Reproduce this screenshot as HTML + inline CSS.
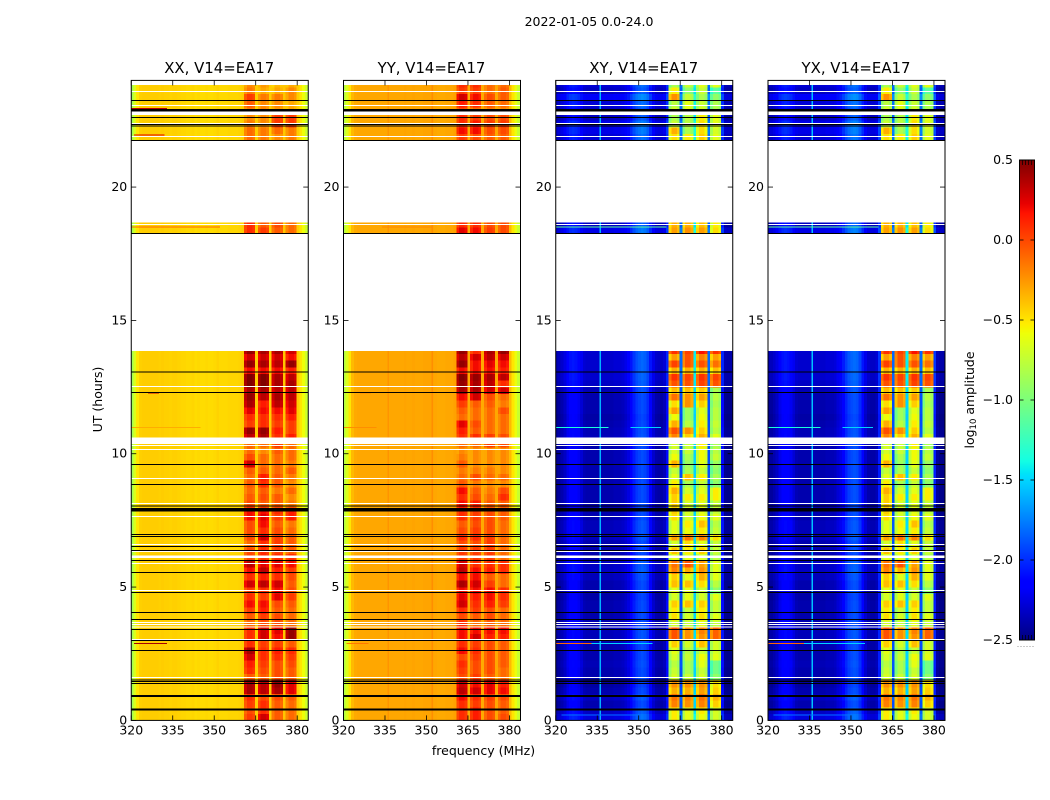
<!DOCTYPE html>
<html><head><meta charset="utf-8"><title>2022-01-05 0.0-24.0</title>
<style>
html,body{margin:0;padding:0;background:#fff}
svg{display:block}
text{font-family:"DejaVu Sans","Liberation Sans",sans-serif;fill:#000}
</style></head>
<body>
<svg id="fig" width="1050" height="800" viewBox="0 0 1050 800" xmlns="http://www.w3.org/2000/svg">
<rect width="1050" height="800" fill="#fff"/>
<text x="589" y="26" font-size="12.5" text-anchor="middle">2022-01-05 0.0-24.0</text>
<text x="483.5" y="755" font-size="12.5" text-anchor="middle">frequency (MHz)</text>
<text transform="translate(102,399.5) rotate(-90)" font-size="12.5" text-anchor="middle">UT (hours)</text>
<text transform="translate(974,400) rotate(-90)" font-size="12.5" text-anchor="middle">log<tspan font-size="8.5" dy="2">10</tspan><tspan dy="-2"> amplitude</tspan></text>
</svg>
<script>
// Time rows (UT hour at the start of each 0.25 h row)
const timeRows = [0,0.25,0.5,0.75,1,1.25,1.5,1.75,2,2.25,2.5,2.75,3,3.25,3.5,3.75,4,4.25,4.5,4.75,5,5.25,5.5,5.75,6,6.25,6.5,6.75,
7,7.25,7.5,7.75,8,8.25,8.5,8.75,9,9.25,9.5,9.75,10,10.25,10.5,10.75,11,11.25,11.5,11.75,12,12.25,12.5,12.75,13,13.25,13.5,13.75,
18.25,18.5,21.75,22,22.25,22.5,22.75,23,23.25,23.5,23.75];
const rowHours = 0.25;
// Frequency channels: 65 channels of 1 MHz starting here
const firstChannelMHz = 319.8;
const channelMHz = 1;
// Channel index ranges of the four bright spectral windows
const windowChannels = [[41,44],[46,49],[51,54],[56,59]];

// Channel profiles, log10 amplitude (inside the spectral windows the value is an offset to that row's level)
const profileXX = [-0.85,-0.65,-0.5,-0.43,-0.42,
-0.42,-0.42,-0.42,-0.42,-0.42,-0.43,-0.42,-0.43,-0.43,-0.44,-0.43,-0.43,-0.44,-0.45,
-0.45,-0.46,-0.46,-0.45,-0.47,-0.46,-0.47,-0.47,-0.46,-0.47,-0.47,-0.46,-0.44,-0.46,-0.46,-0.46,-0.45,-0.45,-0.45,-0.45,-0.44,-0.42,
-0.1,0,0,-0.05,-0.42,-0.1,0,0,-0.05,-0.42,-0.1,0,0,-0.05,-0.4,-0.1,0,0,-0.05,
-0.42,-0.5,-0.58,-0.7,-0.85];
const profileYY = [-0.8,-0.65,-0.5,-0.36,-0.31,
-0.3,-0.3,-0.3,-0.3,-0.3,-0.3,-0.3,-0.3,-0.3,-0.3,-0.3,-0.3,-0.3,-0.3,
-0.3,-0.3,-0.3,-0.29,-0.3,-0.3,-0.29,-0.3,-0.3,-0.3,-0.29,-0.29,-0.29,-0.29,-0.3,-0.31,-0.31,-0.31,-0.3,-0.3,-0.3,-0.28,
-0.1,0,0,-0.05,-0.31,-0.1,0,0,-0.05,-0.31,-0.1,0,0,-0.05,-0.3,-0.1,0,0,-0.05,
-0.36,-0.5,-0.6,-0.72,-0.85];
const profileXY = [-2.45,-2.42,-2.38,-2.32,-2.22,
-2.16,-2.14,-2.16,-2.2,-2.28,-2.36,-2.38,-2.38,-2.38,-2.38,-2.38,-2.36,-2.38,-2.38,
-2.38,-2.38,-2.36,-2.36,-2.36,-2.34,-2.3,-2.25,-2.15,-2.05,-1.97,-1.93,-1.9,-1.93,-2.0,-2.15,-2.3,-2.38,-2.4,-2.4,-2.36,-2.1,
-0.1,0.08,0.08,-0.02,-1.9,-0.1,0.08,0.08,-0.02,-1.5,-0.1,0.08,0.08,-0.02,-1.9,-0.1,0.08,0.08,-0.02,
-2.1,-2.45,-2.47,-2.47,-2.47];
const profileYX = [-2.45,-2.42,-2.38,-2.32,-2.22,
-2.16,-2.14,-2.16,-2.2,-2.28,-2.36,-2.38,-2.38,-2.38,-2.38,-2.38,-2.36,-2.38,-2.38,
-2.38,-2.38,-2.36,-2.36,-2.36,-2.34,-2.28,-2.23,-2.13,-2.03,-1.95,-1.91,-1.89,-1.91,-2.0,-2.15,-2.3,-2.38,-2.4,-2.4,-2.36,-2.05,
-0.1,0.08,0.08,-0.02,-1.9,-0.1,0.08,0.08,-0.02,-1.5,-0.1,0.08,0.08,-0.02,-1.9,-0.1,0.08,0.08,-0.02,
-2.05,-2.43,-2.47,-2.47,-2.47];

// Narrow vertical features: [start MHz, end MHz, log10 amplitude]
const spikesXX = [];
const spikesYY = [[335.9,336.4,-0.24],[351.9,352.4,-0.22]];
const spikesXY = [[335.8,336.3,-1.6]];
const spikesYX = [[335.8,336.3,-1.55]];

// Row levels of the four spectral windows, one [w1,w2,w3,w4] per time row
const levelsXX = [
[0.05,0.3,-0.05,-0.1],[0,0.1,-0.05,-0.1],[0.05,0.1,-0.05,-0.1],[0.1,0,0,-0.05],[0.4,0.35,0.4,0.25],[0.4,0.35,0.45,0.25],[-0.05,-0.05,0,-0.05],
[0.1,0,0,-0.05],[0.15,0.05,0,0],[0.3,0.1,0.1,0.05],[0.4,0.1,0.15,0.1],[0.1,0.05,0.05,-0.05],[0.1,0.3,0.2,0.45],[0.1,0.3,0.25,0.45],
[-0.1,0,0,-0.1],[-0.05,0.05,0,-0.1],[0.05,0.15,-0.05,-0.1],[0.2,0.2,0,-0.05],[0.1,0.05,0.25,0.05],[0.05,0.1,0.2,0],[0.3,0.35,0.3,-0.05],
[0.1,0.15,0.1,0],[0.2,0.35,0.15,0.05],[0.35,0.25,0.25,0.2],[0,0.1,0.1,0.1],[0,0.1,0.05,-0.05],[-0.1,0.1,0.05,-0.05],[0,0.3,0.05,-0.05],
[0,0.1,0,-0.1],[0,0.2,-0.05,-0.15],[0.2,0.25,0.05,0.15],[0.2,0.2,0.1,0.15],[0,-0.05,-0.05,-0.15],[-0.05,0,-0.05,-0.2],[-0.1,-0.05,-0.15,-0.1],
[-0.05,0.1,-0.05,-0.2],[-0.1,0.15,-0.05,-0.15],[-0.05,-0.05,-0.1,-0.05],[0.3,-0.1,-0.1,-0.15],[0,-0.1,-0.1,-0.1],[-0.1,-0.2,-0.05,-0.1],[-0.1,-0.1,0.05,-0.1],
[0.35,0.4,0.1,0.15],[0.45,0.45,0.15,0.05],[0.05,0.1,0.05,0.05],[0.1,0.1,0.1,0.15],[0.25,0.2,0.2,0.25],[0.4,0.15,0.35,0.3],[0.45,0.35,0.4,0.35],
[0.4,0.4,0.35,0.35],[0.5,0.5,0.4,0.4],[0.5,0.5,0.4,0.35],[0.2,0.2,0.2,0.15],[0.45,0.4,0.35,0.45],[0.3,0.3,0.3,0.2],[0.45,0.4,0.4,0.3],
[0.1,0.05,-0.05,-0.1],[0.1,-0.05,0,-0.1],
[-0.1,-0.15,-0.2,-0.15],[-0.1,-0.15,-0.1,-0.15],[-0.15,-0.2,0.05,0.05],[-0.2,-0.2,0.05,0.05],[-0.15,-0.2,-0.25,-0.3],[-0.05,-0.2,-0.2,-0.3],[0.05,-0.15,-0.15,-0.2],[-0.15,-0.3,-0.3,-0.2],[-0.2,-0.25,-0.35,-0.3]];
const levelsYY = [
[0.1,0.15,0,0],[0.1,0.15,0,-0.05],[0.1,0.05,0,-0.05],[0.2,0.1,0.05,0],[0.35,0.3,0.25,0.2],[0.3,0.2,0.25,0.15],[0,0.05,-0.05,-0.1],
[0.05,0,0,-0.1],[0.1,0,0,-0.05],[0,0.05,0,-0.05],[0.2,0.1,0,-0.05],[0.1,0.05,0,-0.05],[0.2,0.3,0.15,0.15],[0.2,0.2,0.2,0.2],
[0.1,-0.1,-0.05,-0.1],[0,-0.05,0,-0.1],[0.1,0.05,0,-0.1],[0.3,0.1,0.15,0.05],[0.25,0.15,0.2,0.1],[0.2,0.2,0.2,0.1],[0.4,0.3,0.05,-0.1],
[0.2,0.2,-0.05,-0.1],[0.35,0.2,0.15,0.1],[0.3,0.1,0.1,0.1],[0.05,0.05,0.05,-0.1],[0.05,0.05,0.05,-0.1],[0,0,0.05,-0.1],[0.1,0.1,0.05,-0.1],
[0,0.05,0,-0.1],[-0.05,0,0,-0.1],[0.1,0.05,0,-0.05],[0.1,0.05,0,-0.05],[0.2,0.15,-0.05,-0.05],[0.1,0,-0.1,0.1],[0.2,-0.05,-0.15,0],
[-0.05,-0.15,-0.2,-0.2],[-0.1,0,-0.1,-0.1],[-0.15,-0.15,-0.15,-0.2],[-0.05,-0.2,-0.2,-0.2],[-0.15,-0.2,-0.2,-0.2],[-0.2,-0.2,-0.2,-0.2],[-0.1,-0.1,0.05,0],
[0.1,0.1,0.05,0],[0.15,-0.05,-0.1,-0.1],[0.25,0,-0.1,-0.1],[-0.1,-0.1,-0.1,-0.1],[-0.05,-0.1,-0.1,0],[0.05,-0.05,-0.05,-0.15],[0.2,0.3,0,-0.1],
[0.4,0.4,0.3,0.3],[0.45,0.4,0.35,0.1],[0.5,0.45,0.4,0.35],[0.2,0.2,0.2,0.15],[0.45,0.2,0.25,0.2],[0.35,0.3,0.35,0.3],[0.45,0.1,0.4,0.45],
[0.25,0.2,0.05,0],[0.1,0.1,0,0],
[0.05,0,-0.05,-0.05],[0.2,0.2,0,0],[0.1,0.15,0.05,0.05],[0.1,0.05,0,0],[0,-0.1,-0.15,-0.2],[0.15,0.1,-0.05,-0.1],[0.3,0.2,0,-0.05],[0.05,0.05,-0.1,-0.05],[0.1,0.1,-0.1,-0.1]];
const levelsCross = [
[-0.6,-0.7,-0.65,-0.75],[-0.6,-0.7,-0.6,-0.75],[-0.25,-0.3,-0.25,-0.5],[-0.2,-0.25,-0.2,-0.4],[-0.4,-0.4,-0.35,-0.5],[-0.3,-0.3,-0.3,-0.55],[-0.75,-0.8,-0.75,-1],
[-0.8,-0.9,-0.8,-1.1],[-0.85,-0.9,-0.7,-1.1],[-0.75,-0.8,-0.65,-0.7],[-0.7,-0.85,-0.8,-0.75],[-0.5,-0.75,-0.45,-0.75],[-0.1,-0.3,-0.3,-0.15],[-0.1,-0.3,-0.25,-0.15],
[-0.75,-0.8,-0.7,-0.8],[-0.55,-0.75,-0.55,-0.7],[-0.6,-0.8,-0.6,-0.8],[-0.5,-0.45,-0.5,-0.8],[-0.75,-0.7,-0.75,-0.7],[-0.7,-0.7,-0.8,-1],[-0.45,-0.45,-0.55,-0.85],
[-0.5,-0.7,-0.4,-0.7],[-0.25,-0.4,-0.3,-0.7],[-0.2,-0.1,-0.35,-0.7],[-0.7,-0.7,-0.75,-0.85],[-0.45,-0.6,-0.5,-0.8],[-0.75,-0.55,-0.7,-0.8],[-0.35,-0.2,-0.25,-0.55],
[-0.7,-0.65,-0.6,-0.8],[-0.7,-0.6,-0.45,-0.85],[-0.55,-0.75,-0.65,-0.7],[-0.5,-0.75,-0.7,-0.8],[-0.5,-0.75,-0.7,-0.8],[-0.5,-0.6,-0.6,-0.6],[-0.4,-0.75,-0.7,-0.6],
[-0.6,-0.9,-0.8,-1],[-0.7,-0.45,-0.6,-0.9],[-0.8,-0.9,-0.8,-1],[-0.4,-0.95,-0.7,-0.95],[-0.65,-0.9,-0.65,-0.8],[-0.75,-0.8,-0.65,-0.85],[-0.75,-0.8,-0.6,-0.9],
[-0.25,-0.5,-0.4,-0.7],[-0.1,-0.3,-0.5,-0.85],[-0.4,-0.85,-0.6,-0.8],[-0.65,-0.95,-0.65,-0.85],[-0.35,-0.95,-0.7,-0.85],[-0.55,-0.3,-0.5,-0.9],[-0.2,-0.3,-0.35,-0.85],
[-0.45,-0.45,-0.5,-0.9],[-0.1,-0.1,-0.05,-0.1],[0,-0.05,0,-0.05],[-0.4,-0.4,-0.4,-0.45],[-0.05,-0.1,-0.1,-0.2],[-0.35,-0.1,-0.25,-0.35],[0,-0.05,0.1,0],
[-0.35,-0.3,-0.35,-0.55],[-0.4,-0.4,-0.45,-0.6],
[-0.55,-0.6,-0.5,-0.7],[-0.4,-0.9,-0.55,-0.75],[-0.8,-0.85,-0.55,-0.7],[-0.9,-0.85,-0.6,-0.7],[-0.75,-0.7,-0.75,-0.9],[-0.85,-0.7,-0.8,-0.9],[-0.3,-0.8,-0.9,-1],[-0.6,-1,-0.8,-1.2],[-0.9,-0.8,-0.7,-0.7]];
// Per-row brightening of the cross-hand background channels
const lowCross = [0.12,0.06,0,0.05,0,-0.03,0,0,0.02,0,0,0,0.03,0.03,0,0,0,0,-0.02,0,0,0.03,0.06,0.05,-0.02,0,0,0.04,
0.03,0.03,0,0,0,0,0,0,0,0,0,0,0,0,0.03,0.02,0,-0.02,0,0,0,0.02,0.06,0.08,0.08,0.08,0.08,0.08,
0.15,0.05,
0.1,0.15,0.15,0.05,0.05,0.1,0.2,0.05,0.1];
const lowParallel = [];

// Short one-row interference streaks: [UT, start MHz, end MHz, log10 amplitude]
const streaksXX = [[2.89,321,333,0.4],[12.27,326,330,0.3],[10.99,320,345,-0.32],[18.5,320,352,-0.1],[21.95,321,332,0.25],[22.95,320,333,0.35]];
const streaksYY = [[2.89,321,329,-0.15],[10.99,320,332,-0.22],[18.5,334,352,-0.2],[12.27,326,330,-0.2]];
const streaksXY = [[10.99,320,339,-1.35],[10.99,347,358,-1.5],[2.89,320,333,-0.1],[2.89,333,355,-1.5],[18.5,320,360,-1.1],[0.2,322,350,-1.8]];
const streaksYX = [[10.99,320,339,-1.35],[10.99,347,358,-1.5],[2.89,320,333,-0.1],[2.89,333,355,-1.5],[18.5,320,360,-1.1],[0.2,322,350,-1.8]];

// Flagged time ranges, UT hours
const gapSpans = [[23.83,24],[22.70,22.83],[18.68,21.75],[13.85,18.26],[10.36,10.61],[6.09,6.19]];
const whiteRows = [23.58,23.05,22.38,21.90,18.60,12.52,10.31,10.16,9.07,8.13,7.64,6.59,6.33,5.88,4.87,3.67,3.59,3.51,3.03,1.60];
const blackRows = [23.24,22.60,22.35,22.29,21.75,18.26,13.06,12.30,9.59,8.84,8.04,6.98,6.90,6.52,6.38,5.99,5.54,4.79,4.04,3.78,3.40,2.99,2.62,1.51,1.45,1.38];
const blackSpans = [[22.83,22.93],[7.84,7.97],[0.88,0.95],[0.38,0.45]];

// Axis tick values and colour limits
const xTicks = [320,335,350,365,380];
const yTicks = [0,5,10,15,20];
const cbarTicks = [0.5,0,-0.5,-1,-1.5,-2,-2.5];
const colorMin = -2.5, colorMax = 0.5;

const panels = [
 {title:'XX, V14=EA17', key:'xx', x0:131.25, profile:profileXX, levels:levelsXX, low:lowParallel, streaks:streaksXX, spikes:spikesXX},
 {title:'YY, V14=EA17', key:'yy', x0:343.5, profile:profileYY, levels:levelsYY, low:lowParallel, streaks:streaksYY, spikes:spikesYY},
 {title:'XY, V14=EA17', key:'xy', x0:555.75, profile:profileXY, levels:levelsCross, low:lowCross, streaks:streaksXY, spikes:spikesXY},
 {title:'YX, V14=EA17', key:'yx', x0:768, profile:profileYX, levels:levelsCross, low:lowCross, streaks:streaksYX, spikes:spikesYX}
];

const NS = 'http://www.w3.org/2000/svg';
const fig = document.getElementById('fig');
const W = 177, axisTop = 80.4, axisBottom = 720.4;
const yScale = ut => axisBottom - (ut/24)*(axisBottom-axisTop);
const xScaleFor = x0 => f => x0 + (f-320)/64*W;

function lerpStops(stops,t){
  for(let i=1;i<stops.length;i++){
    if(t<=stops[i][0]){
      const a=stops[i-1],b=stops[i];
      return a[1]+(b[1]-a[1])*(t-a[0])/(b[0]-a[0]);
    }
  }
  return stops[stops.length-1][1];
}
const jetR=[[0,0],[0.35,0],[0.66,1],[0.89,1],[1,0.5]];
const jetG=[[0,0],[0.125,0],[0.375,1],[0.64,1],[0.91,0],[1,0]];
const jetB=[[0,0.5],[0.11,1],[0.34,1],[0.65,0],[1,0]];
function color(v){
  const t=Math.max(0,Math.min(1,(v-colorMin)/(colorMax-colorMin)));
  const c=s=>Math.round(255*lerpStops(s,t));
  return 'rgb('+c(jetR)+','+c(jetG)+','+c(jetB)+')';
}
function mk(parent,tag,attrs){
  const el=document.createElementNS(NS,tag);
  for(const k in attrs) el.setAttribute(k,attrs[k]);
  parent.appendChild(el);
  return el;
}
function windowIndex(c){
  for(let i=0;i<windowChannels.length;i++){
    if(c>=windowChannels[i][0]&&c<=windowChannels[i][1]) return i;
  }
  return -1;
}

panels.forEach(function(p){
  const xs=xScaleFor(p.x0);
  const g=mk(fig,'g',{});
  
  
  const clipId='clip-'+p.key;
  const defs=mk(g,'defs',{});
  const cp=mk(defs,'clipPath',{id:clipId});
  mk(cp,'rect',{x:p.x0,y:axisTop,width:W,height:axisBottom-axisTop});
  const hm=mk(g,'g',{'clip-path':'url(#'+clipId+')','shape-rendering':'crispEdges'});
  
  
  timeRows.forEach(function(ut,r){
    const yTop=yScale(ut+rowHours), yBot=yScale(ut);
    const shift=p.low[r]||0;
    p.profile.forEach(function(val,c){
      const w=windowIndex(c);
      const v=w>=0 ? val+p.levels[r][w] : val+shift;
      const f0=firstChannelMHz+c*channelMHz;
      const cell=mk(hm,'rect',{x:xs(f0).toFixed(2),y:yTop.toFixed(2),width:(xs(f0+channelMHz)-xs(f0)+0.3).toFixed(2),height:(yBot-yTop+0.3).toFixed(2),fill:color(v)});
      
      
    });
  });
  p.spikes.forEach(function(s){
    const e=mk(hm,'rect',{x:xs(s[0]).toFixed(2),y:axisTop,width:(xs(s[1])-xs(s[0])).toFixed(2),height:axisBottom-axisTop,fill:color(s[2])});
    
    
  });
  p.streaks.forEach(function(s){
    const st=mk(hm,'rect',{x:xs(s[1]).toFixed(2),y:(yScale(s[0])-0.5).toFixed(2),width:(xs(s[2])-xs(s[1])).toFixed(2),height:1,fill:color(s[3])});
    
    
  });
  gapSpans.forEach(function(s){
    const e=mk(hm,'rect',{x:p.x0,y:yScale(s[1]).toFixed(2),width:W,height:(yScale(s[0])-yScale(s[1])).toFixed(2),fill:'#fff'});
    
    
  });
  whiteRows.forEach(function(u){
    const e=mk(hm,'rect',{x:p.x0,y:(yScale(u)-0.5).toFixed(2),width:W,height:1,fill:'#fff'});
    
    
  });
  blackRows.forEach(function(u){
    const e=mk(hm,'rect',{x:p.x0,y:(yScale(u)-0.5).toFixed(2),width:W,height:1,fill:'#000'});
    
    
  });
  blackSpans.forEach(function(s){
    const e=mk(hm,'rect',{x:p.x0,y:yScale(s[1]).toFixed(2),width:W,height:(yScale(s[0])-yScale(s[1])).toFixed(2),fill:'#000'});
    
    
  });
  const frame=mk(g,'rect',{x:p.x0,y:axisTop,width:W,height:axisBottom-axisTop,fill:'none',stroke:'#000','stroke-width':1});
  
  
  xTicks.forEach(function(t){
    const x=xs(t);
    const a=mk(g,'line',{x1:x,x2:x,y1:axisBottom,y2:axisBottom-5,stroke:'#000','stroke-width':0.8});
    
    
    const b=mk(g,'line',{x1:x,x2:x,y1:axisTop,y2:axisTop+5,stroke:'#000','stroke-width':0.8});
    
    
    const l=mk(g,'text',{x:x,y:734.5,'font-size':12.5,'text-anchor':'middle'});
    l.textContent=String(t);
    
    
  });
  yTicks.forEach(function(t){
    const y=yScale(t);
    const a=mk(g,'line',{x1:p.x0,x2:p.x0+5,y1:y,y2:y,stroke:'#000','stroke-width':0.8});
    
    
    const b=mk(g,'line',{x1:p.x0+W,x2:p.x0+W-5,y1:y,y2:y,stroke:'#000','stroke-width':0.8});
    
    
    const l=mk(g,'text',{x:p.x0-4,y:y+4,'font-size':12.5,'text-anchor':'end'});
    l.textContent=String(t);
    
    
  });
  const ti=mk(g,'text',{x:p.x0+W/2-0.5,y:73,'font-size':14.9,'text-anchor':'middle'});
  ti.textContent=p.title;
  
  
});

// Colour bar
const cb=mk(fig,'g',{});


const cbX=1019.5, cbW=15, cbTop=160, cbBot=640;
const cbY=v=>cbBot-(v-colorMin)/(colorMax-colorMin)*(cbBot-cbTop);
const cbSteps=240;
const cbStrip=mk(cb,'g',{'shape-rendering':'crispEdges'});
for(let i=0;i<cbSteps;i++){
  const v0=colorMin+(colorMax-colorMin)*i/cbSteps, v1=colorMin+(colorMax-colorMin)*(i+1)/cbSteps;
  const s=mk(cbStrip,'rect',{x:cbX,y:cbY(v1),width:cbW,height:cbY(v0)-cbY(v1)+0.3,fill:color((v0+v1)/2)});
  
  
}
const cbF=mk(cb,'rect',{x:cbX,y:cbTop,width:cbW,height:cbBot-cbTop,fill:'none',stroke:'#000','stroke-width':1});


cbarTicks.forEach(function(t){
  const y=cbY(t);
  const a=mk(cb,'line',{x1:cbX,x2:cbX+4,y1:y,y2:y,stroke:'#000','stroke-width':0.8});
  
  
  const b=mk(cb,'line',{x1:cbX+cbW,x2:cbX+cbW-4,y1:y,y2:y,stroke:'#000','stroke-width':0.8});
  
  
  const l=mk(cb,'text',{x:1013,y:y+4,'font-size':12.5,'text-anchor':'end'});
  l.textContent=t.toFixed(1).replace('-','\u2212');
  
  
});
// Minor ticks along the colour bar's top and bottom edges, plus the tiny dotted label row below it
[0,1,2,3,4,5].forEach(function(i){
  const x=cbX+i*3;
  const a=mk(cb,'line',{x1:x,x2:x,y1:cbTop,y2:cbTop+5,stroke:'#000','stroke-width':0.7});
  
  
  const b=mk(cb,'line',{x1:x,x2:x,y1:cbBot,y2:cbBot-5,stroke:'#000','stroke-width':0.7});
  
  
  const d=mk(cb,'rect',{x:x-2,y:646,width:1,height:1,fill:'#999'});
  
  
});
</script>
</body></html>
